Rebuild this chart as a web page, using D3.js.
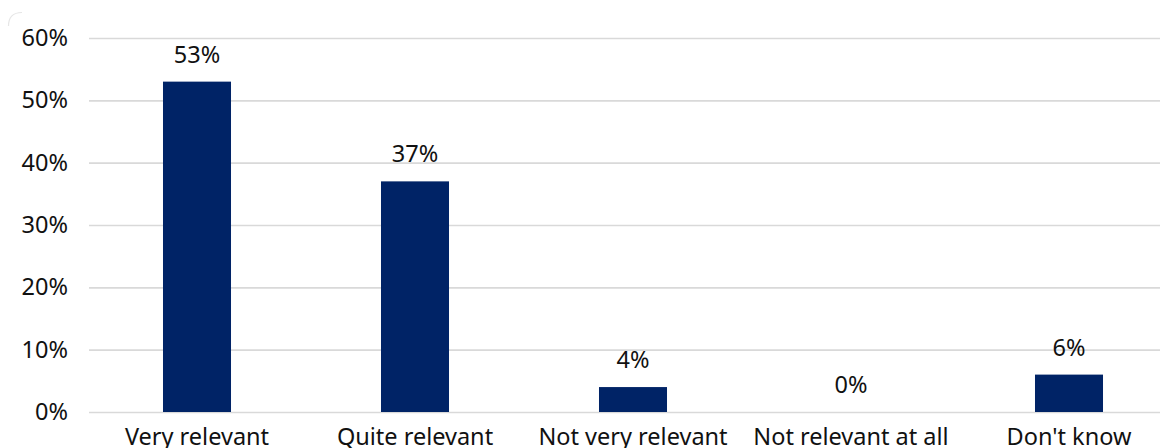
<!DOCTYPE html>
<html>
<head>
<meta charset="utf-8">
<script src="https://cdn.jsdelivr.net/npm/d3@7"></script>
<style>
  html, body { margin: 0; padding: 0; background: #fff; overflow: hidden; }
  svg { display: block; }
  text { font-family: "Noto Sans", "Open Sans", sans-serif; fill: #111; }
</style>
</head>
<body>
<svg id="chart" width="1160" height="448"></svg>
<script>
// Survey answers and their shares
const categories = ["Very relevant", "Quite relevant", "Not very relevant", "Not relevant at all", "Don't know"];
const shares = [0.53, 0.37, 0.04, 0.00, 0.06];
const tickValues = [0, 0.1, 0.2, 0.3, 0.4, 0.5, 0.6];

const svg = d3.select("#chart");
const fmt = d3.format(".0%");
const fontSize = 23.5;
const fontFamily = '"Noto Sans", "Open Sans", sans-serif';

// Faint rounded corner of the chart frame
svg.append("path")
  .attr("d", "M8.5,26 Q8.5,12.5 22,12.5")
  .attr("fill", "none")
  .attr("stroke", "#e6e6e6")
  .attr("stroke-width", 1.2);

const x = d3.scaleBand()
  .domain(categories)
  .range([88, 1178])
  .paddingInner(0.688)
  .paddingOuter(0.344);

const y = d3.scaleLinear()
  .domain([0, 0.6])
  .range([412, 38]);

// Horizontal gridlines with percentage labels
const yAxis = d3.axisLeft(y)
  .tickValues(tickValues)
  .tickFormat(fmt)
  .tickSize(-1100)
  .tickPadding(21);

const gy = svg.append("g")
  .attr("transform", "translate(89,0)")
  .call(yAxis);
gy.select(".domain").remove();
gy.selectAll(".tick line")
  .attr("stroke", "#d9d9d9")
  .attr("stroke-width", 1.6);
gy.selectAll(".tick text")
  .attr("font-size", fontSize)
  .attr("fill", "#111")
  .style("font-family", fontFamily);

// Bars
svg.append("g")
  .selectAll("rect")
  .data(categories)
  .join("rect")
  .attr("x", d => x(d))
  .attr("width", x.bandwidth())
  .attr("y", (d, i) => y(shares[i]))
  .attr("height", (d, i) => y(0) - y(shares[i]))
  .attr("fill", "#002366");

// Value labels above the bars
svg.append("g")
  .selectAll("text")
  .data(categories)
  .join("text")
  .attr("x", d => x(d) + x.bandwidth() / 2)
  .attr("y", (d, i) => y(shares[i]) - 19)
  .attr("text-anchor", "middle")
  .attr("font-size", fontSize)
  .text((d, i) => fmt(shares[i]));

// Category labels along the baseline
const xAxis = d3.axisBottom(x).tickSize(0).tickPadding(16);
const gx = svg.append("g")
  .attr("transform", "translate(0,412)")
  .call(xAxis);
gx.select(".domain").remove();
gx.selectAll(".tick text")
  .attr("font-size", fontSize)
  .attr("fill", "#111")
  .style("font-family", fontFamily);
</script>
</body>
</html>
